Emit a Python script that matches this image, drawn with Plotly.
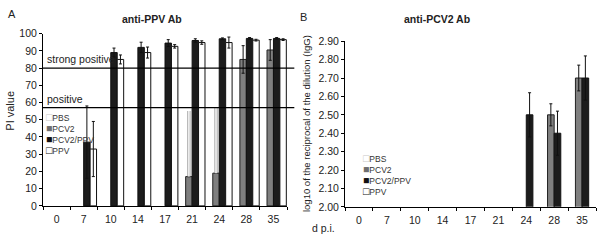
import plotly.graph_objects as go

days = ["0", "7", "10", "14", "17", "21", "24", "28", "35"]
series = ["PBS", "PCV2", "PCV2/PPV", "PPV"]

# Panel A: anti-PPV Ab (PI value); None = no visible bar
a_pbs = [None] * 9
a_pcv2 = [None, None, None, None, None, 17, 19, 85, 90.5]
a_pcv2_err = [0, 0, 0, 0, 0, 0, 0, 8, 6]
a_pcv2_upper = [0, 0, 0, 0, 0, 38, 38, 0, 0]   # light upper whiskers at 21/24
a_pcv2ppv = [None, 37, 89, 92, 94.5, 96, 97, 97.2, 97.2]
a_pcv2ppv_err = [0, 21, 2.6, 3, 2, 1, 0.5, 0.5, 0.5]
a_ppv = [None, 33, 85, 89, 92.6, 94.8, 94.8, 96.2, 96.5]
a_ppv_err = [0, 16, 2.6, 3.2, 1, 1, 3.2, 0.5, 0.5]
a_thresholds = [80, 57]
a_threshold_labels = ["strong positive", "positive"]

# Panel B: anti-PCV2 Ab (log10 reciprocal dilution)
b_pbs = [None] * 9
b_pcv2 = [None, None, None, None, None, None, None, 2.50, 2.70]
b_pcv2_err = [0, 0, 0, 0, 0, 0, 0, 0.06, 0.07]
b_pcv2ppv = [None, None, None, None, None, None, 2.50, 2.40, 2.70]
b_pcv2ppv_err = [0, 0, 0, 0, 0, 0, 0.12, 0.12, 0.12]
b_ppv = [None] * 9

FONT = "Liberation Sans, Arial, sans-serif"
fill = {"PBS": "white", "PCV2": "#7f7f7f", "PCV2/PPV": "#1c1c1c", "PPV": "white"}
edge = {"PBS": "#bbbbbb", "PCV2": "#222222", "PCV2/PPV": "#111111", "PPV": "#111111"}

fig = go.Figure()

def add_bar(name, y, err, xa, ya, og):
    fig.add_trace(go.Bar(
        x=days, y=y, name=name, xaxis=xa, yaxis=ya, offsetgroup=og,
        marker=dict(color=fill[name], line=dict(color=edge[name], width=1)),
        error_y=dict(type="data", array=err, visible=err is not None,
                     color="#111111", thickness=1, width=1.5),
        showlegend=False,
    ))

add_bar("PBS", a_pbs, None, "x", "y", "a0")
add_bar("PCV2", a_pcv2, a_pcv2_err, "x", "y", "a1")
# light upper whiskers overlaying the PCV2 slot
for col, th in (("#b0b0b0", 3.5), ("#f6f6f6", 1.5)):
    fig.add_trace(go.Bar(x=days, y=a_pcv2, xaxis="x", yaxis="y", offsetgroup="a1",
                         marker=dict(color="rgba(0,0,0,0)", line=dict(width=0)),
                         error_y=dict(type="data", array=a_pcv2_upper, arrayminus=[0] * 9,
                                      symmetric=False, color=col, thickness=th, width=0),
                         showlegend=False, hoverinfo="skip"))
add_bar("PCV2/PPV", a_pcv2ppv, a_pcv2ppv_err, "x", "y", "a2")
add_bar("PPV", a_ppv, a_ppv_err, "x", "y", "a3")

add_bar("PBS", b_pbs, None, "x2", "y2", "b0")
add_bar("PCV2", b_pcv2, b_pcv2_err, "x2", "y2", "b1")
add_bar("PCV2/PPV", b_pcv2ppv, b_pcv2ppv_err, "x2", "y2", "b2")
add_bar("PPV", b_ppv, None, "x2", "y2", "b3")

H = 249
def yd(px):
    return 1 - px / H

axis_common = dict(showline=True, linecolor="black", linewidth=1, ticks="outside",
                   ticklen=3, tickcolor="black", showgrid=False, zeroline=False,
                   tickfont=dict(family=FONT, size=10.5, color="#222"))

fig.update_layout(
    width=600, height=249,
    margin=dict(l=0, r=0, t=0, b=0),
    paper_bgcolor="white", plot_bgcolor="white",
    barmode="group", bargap=0.05, bargroupgap=0,
    font=dict(family=FONT, color="#222"),
    xaxis=dict(domain=[43 / 600, 287 / 600], anchor="y", tickson="boundaries",
               ticklabelstandoff=4, **axis_common),
    yaxis=dict(domain=[yd(210), yd(29)], anchor="x", range=[0, 100], dtick=10, **axis_common),
    xaxis2=dict(domain=[345 / 600, 596 / 600], anchor="y2", tickson="boundaries",
                ticklabelstandoff=4, **axis_common),
    yaxis2=dict(domain=[yd(211), yd(37)], anchor="x2", range=[2.0, 2.9], dtick=0.1,
                tickformat=".2f", **axis_common),
)

# threshold lines in panel A
for v, lab in zip(a_thresholds, a_threshold_labels):
    fig.add_shape(type="line", xref="x domain", yref="y", x0=0, x1=1.03, y0=v, y1=v,
                  line=dict(color="black", width=1.3))
    fig.add_annotation(xref="x domain", yref="y", x=0.01, y=v, yshift=1, text=lab,
                       showarrow=False, xanchor="left", yanchor="bottom",
                       font=dict(family=FONT, size=10.5, color="#222"))

def legend_text():
    sq = {"PBS": "<span style='color:#c8c8c8;font-size:10.5px'>□</span>",
          "PCV2": "<span style='color:#6e6e6e;font-size:10.5px'>■</span>",
          "PCV2/PPV": "<span style='color:#111;font-size:10.5px'>■</span>",
          "PPV": "<span style='color:#111;font-size:10.5px'>□</span>"}
    return "<br>".join(f"{sq[s]}{s}" for s in series)

fig.add_annotation(xref="paper", yref="paper", x=44 / 600, y=yd(108), text=legend_text(),
                   showarrow=False, xanchor="left", yanchor="top", align="left",
                   font=dict(family=FONT, size=8.5, color="#333"))
fig.add_annotation(xref="paper", yref="paper", x=361 / 600, y=yd(151), text=legend_text(),
                   showarrow=False, xanchor="left", yanchor="top", align="left",
                   font=dict(family=FONT, size=8.5, color="#333"))

# titles and labels
texts = [
    (12 / 600, yd(8), "A", 11),
    (152 / 600, yd(14), "<b>anti-PPV Ab</b>", 10.5),
    (303 / 600, yd(12), "B", 11),
    (437 / 600, yd(14), "<b>anti-PCV2 Ab</b>", 10.5),
    (323 / 600, yd(233), "d p.i.", 10.5),
]
for x, y, t, s in texts:
    fig.add_annotation(xref="paper", yref="paper", x=x, y=y, text=t, showarrow=False,
                       xanchor="center", yanchor="middle",
                       font=dict(family=FONT, size=s, color="#222"))

fig.add_annotation(xref="paper", yref="paper", x=10 / 600, y=yd(110), text="PI value",
                   showarrow=False, textangle=-90, xanchor="center", yanchor="middle",
                   font=dict(family=FONT, size=11, color="#222"))
fig.add_annotation(xref="paper", yref="paper", x=306 / 600, y=yd(124),
                   text="log10 of the reciprocal of the dilution (IgG)",
                   showarrow=False, textangle=-90, xanchor="center", yanchor="middle",
                   font=dict(family=FONT, size=9.5, color="#222"))

fig.write_html("out.html", config={"displayModeBar": False},
               post_script="document.body.style.margin='0px';")
